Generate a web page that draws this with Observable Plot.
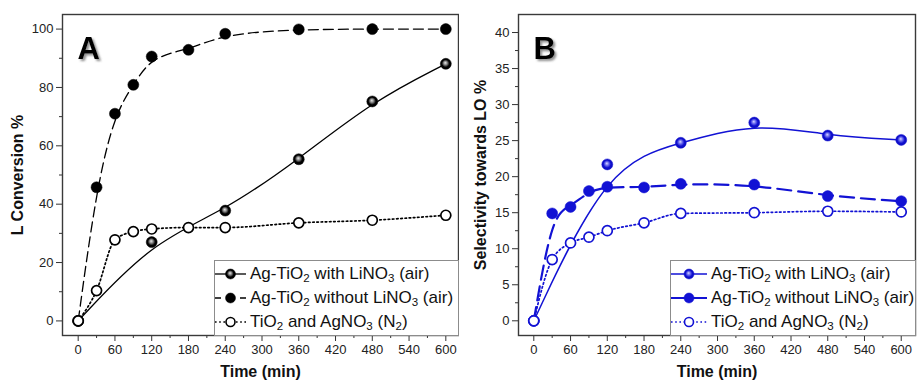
<!DOCTYPE html>
<html><head><meta charset="utf-8">
<script src="https://cdn.jsdelivr.net/npm/d3@7"></script>
<script src="https://cdn.jsdelivr.net/npm/@observablehq/plot@0.6"></script>
<style>
body{margin:0;background:#fff;font-family:"Liberation Sans",Arial,sans-serif;}
#wrap{display:flex;width:917px;height:386px;overflow:hidden;}
.panel{position:relative;height:386px;}
.legend{position:absolute;background:#fff;border:1px solid #8c8c8c;box-sizing:border-box;}
.row{position:absolute;left:0;height:24px;display:flex;align-items:center;font-size:17px;white-space:nowrap;color:#111;}
.row svg{flex:none;}
.row span{margin-left:4px;}
sub{font-size:0.68em;vertical-align:-0.3em;line-height:0;}
</style></head>
<body>
<svg width="0" height="0" style="position:absolute">
<defs>
<radialGradient id="sphereK" cx="0.5" cy="0.5" r="0.55" fx="0.45" fy="0.4">
 <stop offset="0" stop-color="#e8e8e8"/>
 <stop offset="0.3" stop-color="#888"/>
 <stop offset="0.62" stop-color="#000"/>
 <stop offset="1" stop-color="#000"/>
</radialGradient>
<radialGradient id="sphereB" cx="0.5" cy="0.5" r="0.55" fx="0.45" fy="0.4">
 <stop offset="0" stop-color="#d8d8ff"/>
 <stop offset="0.3" stop-color="#7070f0"/>
 <stop offset="0.62" stop-color="#1010d0"/>
 <stop offset="1" stop-color="#0a0ab8"/>
</radialGradient>
<filter id="letterShadow" x="-30%" y="-30%" width="160%" height="160%">
 <feDropShadow dx="2" dy="2" stdDeviation="1.3" flood-color="#555" flood-opacity="0.65"/>
</filter>
</defs></svg>
<div id="wrap"></div>
<script>
// ---- data ----
const time = [0, 30, 60, 90, 120, 180, 240, 360, 480, 600];
const timeWith = [0, 120, 240, 360, 480, 600];
const xTickValues = [0, 60, 120, 180, 240, 300, 360, 420, 480, 540, 600];
const xMinorValues = [30, 90, 150, 210, 270, 330, 390, 450, 510, 570];

// Panel A: L conversion %
const convWith = [0, 27.0, 37.8, 55.4, 75.2, 88.1];
const convWithout = [0, 45.8, 71.0, 80.9, 90.6, 92.9, 98.4, 99.9, 100, 100];
const convN2 = [0, 10.4, 27.8, 30.6, 31.5, 32.0, 32.0, 33.6, 34.5, 36.2];
const yTicksA = [0, 20, 40, 60, 80, 100];
const yMinorA = [10, 30, 50, 70, 90];

// Panel B: selectivity towards LO %
const selWith = [0, 21.7, 24.7, 27.5, 25.7, 25.1];
const selWithout = [0, 14.9, 15.8, 18.0, 18.6, 18.5, 19.0, 18.9, 17.3, 16.6];
const selN2 = [0, 8.5, 10.8, 11.6, 12.5, 13.6, 14.9, 15.0, 15.2, 15.1];
const yTicksB = [0, 5, 10, 15, 20, 25, 30, 35, 40];
const yMinorB = [2.5, 7.5, 12.5, 17.5, 22.5, 27.5, 32.5, 37.5];

const legendLabels = [
  'Ag-TiO<sub>2</sub> with LiNO<sub>3</sub> (air)',
  'Ag-TiO<sub>2</sub> without LiNO<sub>3</sub> (air)',
  'TiO<sub>2</sub> and AgNO<sub>3</sub> (N<sub>2</sub>)'
];

const FONT = '"Liberation Sans", Arial, sans-serif';
const toRows = (xs, ys) => xs.map((t, i) => ({t, v: ys[i]}));

function makePanel(cfg) {
  const wWith = toRows(timeWith, cfg.with);
  const wWithout = toRows(time, cfg.without);
  const wN2 = toRows(time, cfg.n2);
  const c = cfg.color;
  const plot = Plot.plot({
    width: cfg.width, height: 386,
    marginLeft: cfg.ml, marginRight: cfg.mr, marginTop: 14, marginBottom: 51,
    style: {fontFamily: FONT, fontSize: "13px", color: "#222", background: "#fff", overflow: "visible"},
    x: {domain: cfg.xDomain},
    y: {domain: cfg.yDomain},
    marks: [
      Plot.axisX(xMinorValues, {tickSize: 3, tickFormat: () => "", label: null, stroke: "#333"}),
      Plot.axisX(xTickValues, {tickSize: 6, tickPadding: 3, fontSize: 13, label: null, stroke: "#333", fill: "#222"}),
      Plot.axisY(cfg.yMinor, {tickSize: 3, tickFormat: () => "", label: null, stroke: "#333"}),
      Plot.axisY(cfg.yTicks, {tickSize: 6, tickPadding: 3, fontSize: 13, label: null, stroke: "#333", fill: "#222"}),
      Plot.text(["Time (min)"], {frameAnchor: "bottom", dy: 41, fontSize: 16, fontWeight: "bold", fill: "#111"}),
      Plot.text([cfg.yLabel], {frameAnchor: "left", rotate: -90, textAnchor: "middle", lineAnchor: "middle", dx: cfg.yLabelDx, fontSize: 16, fontWeight: "bold", fill: "#111"}),
      Plot.text([cfg.letter], {frameAnchor: "top-left", textAnchor: "start", lineAnchor: "top", dx: 15, dy: 22, fontSize: 31, fontWeight: "bold", fill: "#000"}),
      Plot.line(wN2, {x: "t", y: "v", stroke: c, strokeWidth: 1.7, strokeDasharray: "1.6,2.6", curve: "monotone-x"}),
      Plot.line(wWithout, {x: "t", y: "v", stroke: c, strokeWidth: cfg.dashW, strokeDasharray: cfg.dash, curve: "basis"}),
      Plot.line(wWith, {x: "t", y: "v", stroke: c, strokeWidth: cfg.solidW, curve: "basis"}),
      Plot.dot(wWith, {x: "t", y: "v", r: 5.5, fill: cfg.sphere, stroke: c, strokeWidth: 0.5}),
      Plot.dot(wWithout, {x: "t", y: "v", r: 5.5, fill: c, stroke: c, strokeWidth: 0.5}),
      Plot.dot(wN2, {x: "t", y: "v", r: 5, fill: "white", stroke: c, strokeWidth: 1.7}),
      Plot.frame({stroke: "#3a3a3a", strokeWidth: 1.4})
    ]
  });
  // soft drop shadow on the panel letter
  d3.select(plot).selectAll("text")
    .filter(function() { return this.textContent === cfg.letter; })
    .attr("filter", "url(#letterShadow)");
  const div = document.createElement("div");
  div.className = "panel";
  div.style.width = cfg.width + "px";
  div.appendChild(plot);
  // legend
  const lg = document.createElement("div");
  lg.className = "legend";
  lg.style.left = cfg.legLeft + "px";
  lg.style.top = "260px";
  lg.style.width = (cfg.width - cfg.mr - cfg.legLeft + 1) + "px";
  lg.style.height = "76px";
  const styles = [
    {dash: null, w: cfg.solidW, fill: cfg.sphere, r: 5, sw: 0.5},
    {dash: cfg.legDash, w: cfg.dashW, fill: c, r: 5, sw: 0.5},
    {dash: "1.6,2.6", w: 1.7, fill: "white", r: 4.5, sw: 1.6}
  ];
  styles.forEach((s, i) => {
    const row = document.createElement("div");
    row.className = "row";
    row.style.top = (1 + i * 24) + "px";
    const W = cfg.sampleW;
    row.innerHTML =
      `<svg width="${W}" height="24"><line x1="0" x2="${W}" y1="12" y2="12" stroke="${c}" stroke-width="${s.w}" ${s.dash ? `stroke-dasharray="${s.dash}"` : ""}/>` +
      `<circle cx="${W / 2}" cy="12" r="${s.r}" fill="${s.fill}" stroke="${c}" stroke-width="${s.sw}"/></svg>` +
      `<span>${legendLabels[i]}</span>`;
    lg.appendChild(row);
  });
  div.appendChild(lg);
  return div;
}

const wrap = document.getElementById("wrap");
wrap.appendChild(makePanel({
  width: 459, ml: 62, mr: 1, xDomain: [-25.6, 620.7], yDomain: [-5, 105],
  yTicks: yTicksA, yMinor: yMinorA, yLabel: "L Conversion %", yLabelDx: -45, letter: "A",
  with: convWith, without: convWithout, n2: convN2, color: "#000",
  sphere: "url(#sphereK)", dash: "10,5", dashW: 1.3, solidW: 1.3,
  legLeft: 214, sampleW: 31, legDash: "6,19"
}));
wrap.appendChild(makePanel({
  width: 458, ml: 59, mr: 2, xDomain: [-25, 623.3], yDomain: [-2.04, 42.5],
  yTicks: yTicksB, yMinor: yMinorB, yLabel: "Selectivity towards LO %", yLabelDx: -38, letter: "B",
  with: selWith, without: selWithout, n2: selN2, color: "#1212d4",
  sphere: "url(#sphereB)", dash: "14,7", dashW: 2.2, solidW: 1.5,
  legLeft: 211, sampleW: 36, legDash: null
}));
</script>
</body></html>
